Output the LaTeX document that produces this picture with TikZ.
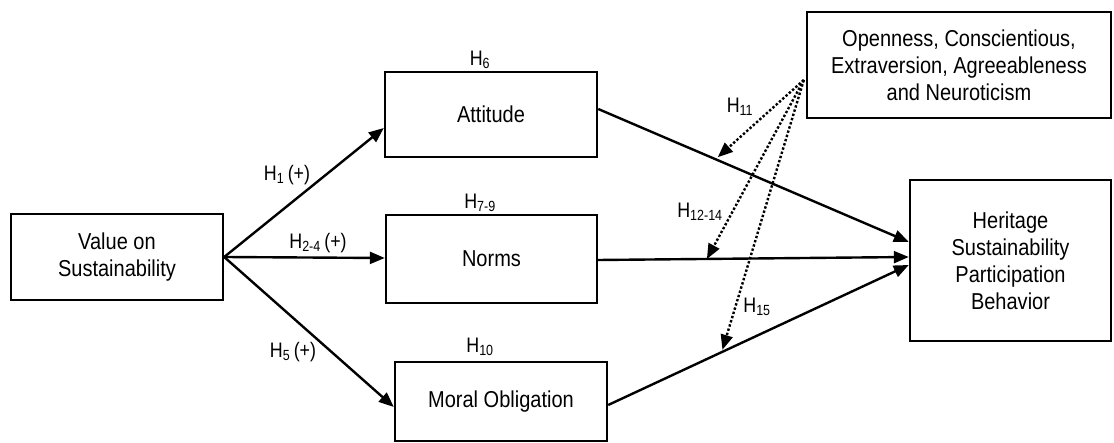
\documentclass[tikz,border=0pt]{standalone}
\usepackage{fontspec}
\setmainfont{Liberation Sans}
\newfontfamily\tallfont[FakeStretch=0.87]{Liberation Sans}
\newfontfamily\hypfont[FakeStretch=0.85]{Liberation Sans}
\usetikzlibrary{arrows.meta}

\begin{document}
\begin{tikzpicture}[x=1pt,y=-1pt,line width=2.4pt,
        -{Triangle[length=15pt,width=12pt]},
        box/.style = {shape=rectangle, draw, align=center, inner sep=0pt,
            font=\tallfont\fontsize{23}{27}\selectfont, -},
        hyp/.style = {font=\hypfont\fontsize{21}{22}\selectfont, inner sep=0pt},
        moderate/.style = {dotted, line width=2.4pt}]
        \useasboundingbox (0,0) rectangle (1114,443);
        \node[box, minimum width=212pt, minimum height=86pt] (value) at (117,257) {Value on\\Sustainability};
        \node[box, minimum width=212pt, minimum height=85pt] (attitude) at (491,114.5) {Attitude};
        \node[box, minimum width=211pt, minimum height=88pt] (norms) at (491.5,259) {Norms};
        \node[box, minimum width=212pt, minimum height=79pt] (moral) at (501,401.5) {Moral Obligation};
        \node[box, minimum width=201pt, minimum height=161pt] (behavior) at (1010.5,260.5) {Heritage\\Sustainability\\Participation\\Behavior};
        \node[box, minimum width=304pt, minimum height=106pt] (traits) at (959,65) {Openness, Conscientious,\\Extraversion, Agreeableness\\and Neuroticism};

        \draw (value.east) -- ([yshift=-13.5pt]attitude.west);
        \draw (value.east) -- ([yshift=1pt]norms.west);
        \draw (value.east) -- ([yshift=-5.5pt]moral.west);

        \draw ([yshift=5.5pt]attitude.east) -- coordinate[pos=0.385] (m11) ([yshift=18.5pt]behavior.west);
        \draw ([yshift=-1pt]norms.east) -- coordinate[pos=0.35] (m12) ([yshift=3.5pt]behavior.west);
        \draw ([yshift=-3.5pt]moral.east) -- coordinate[pos=0.38] (m15) ([yshift=-4.5pt]behavior.west);

        \coordinate (src) at ([xshift=-2pt,yshift=-15pt]traits.west);
        \draw[moderate] (src) -- ([yshift=3pt]m11);
        \draw[moderate] (src) -- (m12);
        \draw[moderate] (src) -- ([yshift=2pt]m15);

        \node[hyp] (h6) at (480,60) {H\textsubscript{6}};
        \node[hyp] (h7) at (480,203) {H\textsubscript{7-9}};
        \node[hyp] (h10) at (480,347) {H\textsubscript{10}};
        \node[hyp] (h1) at (287,175) {H\textsubscript{1}\,(+)};
        \node[hyp] (h2) at (318,243) {H\textsubscript{2-4}\,(+)};
        \node[hyp] (h5) at (293,352) {H\textsubscript{5}\,(+)};
        \node[hyp] (h11) at (740,107) {H\textsubscript{11}};
        \node[hyp] (h12) at (700,212) {H\textsubscript{12-14}};
        \node[hyp] (h15) at (757,307) {H\textsubscript{15}};
    \end{tikzpicture}
\end{document}
